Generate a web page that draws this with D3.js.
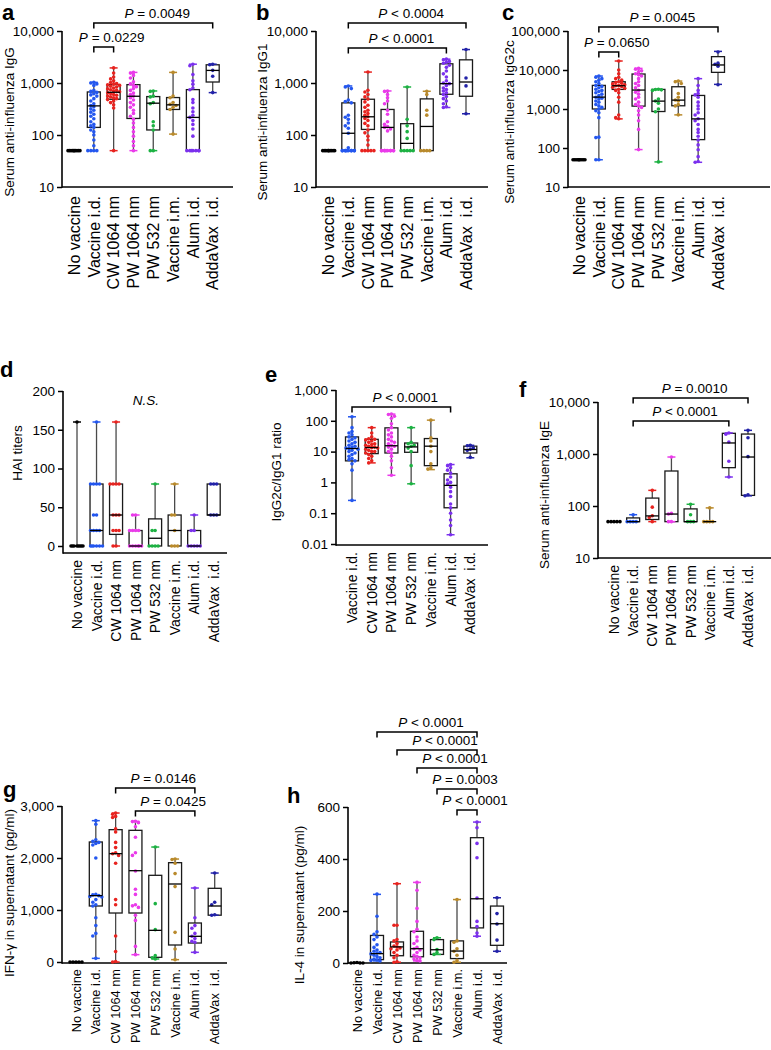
<!DOCTYPE html>
<html><head><meta charset="utf-8">
<script src="https://cdn.jsdelivr.net/npm/d3@7"></script>
<style>
body{margin:0;background:#fff;}
svg{display:block;font-family:"Liberation Sans",Arial,Helvetica,sans-serif;}
</style></head><body>
<svg id="fig" width="771" height="1050"></svg>
<script>
// ---------------- DATA ----------------
const groups = ["No vaccine","Vaccine i.d.","CW 1064 nm","PW 1064 nm","PW 532 nm","Vaccine i.m.","Alum i.d.","AddaVax  i.d."];
const groupColors = ["#000000","#2457ef","#e8231f","#ea3bea","#1db243","#b98a2c","#7b30ee","#2222a8"];

// box stats: [min, q1, median, q3, max]
const aStats = [[50,50,50,50,50],[50,140,363,673,1030],[50,487,663,930,1950],[50,208,556,930,1600],[50,125,409,548,703],[104,310,380,525,1600],[50,50,218,746,2300],[653,1045,1746,2240,2300]];
const aPoints = [
  [50,50,50,50,50,50,50,50,50,50],
  [1030,1000,960,900,720,690,660,620,590,560,500,450,400,370,350,320,300,275,250,230,205,180,160,150,140,125,115,100,80,62,50,50,50,50],
  [1950,1550,1300,1200,1100,1020,980,950,920,900,870,840,800,770,740,720,700,680,650,630,600,580,560,540,520,500,480,450,420,380,330,50],
  [1600,1550,1400,1250,1050,960,900,850,780,720,640,600,560,520,470,420,380,340,300,260,230,200,170,140,115,95,75,62,50],
  [703,690,560,540,420,400,180,150,125,50,50],
  [1600,560,520,420,390,370,340,310,104],
  [2300,2150,1450,1100,950,800,740,480,420,330,280,240,218,190,160,130,95,50,50,50,50,50,50,50],
  [2300,2250,1750,1350,653]
];
const aBrackets = [["Vaccine i.d.","AddaVax  i.d.","= 0.0049"],["Vaccine i.d.","CW 1064 nm","= 0.0229"]];

const bStats = [[50,50,50,50,50],[50,50,108,415,877],[50,128,224,487,1623],[50,50,140,310,703],[50,50,69,165,838],[50,50,146,495,693],[338,607,971,2340,2875],[256,556,1045,2790,4400]];
const bPoints = [
  [50,50,50,50,50,50,50,50,50,50],
  [877,840,780,470,440,415,240,220,200,170,150,135,108,57,50,50,50,50,50,50,50,50,50,50],
  [1623,724,673,600,540,490,433,374,340,300,280,259,240,224,208,190,167,150,125,110,95,80,64,50,50,50,50,50],
  [703,690,600,520,450,400,300,250,180,160,145,140,130,120,50,50,50,50,50,50,50,50,50,50],
  [838,200,150,116,86,50,50,50,50,50],
  [693,600,300,241,50,50,50,50],
  [2875,2800,2600,2500,2400,2200,2000,1700,1500,1300,1100,1000,971,900,800,750,700,650,600,550,500,450,400,350,338],
  [4400,1250,880,256]
];
const bBrackets = [["Vaccine i.d.","AddaVax  i.d.","< 0.0004"],["Vaccine i.d.","Alum i.d.","< 0.0001"]];

const cStats = [[50,50,50,50,50],[50,1000,2017,4030,7000],[558,3180,3950,5000,17000],[91,1184,3060,7890,11000],[44,862,1592,3180,3180],[707,1210,1690,3720,5200],[43,164,558,2226,6000],[4280,8700,13460,22000,30000]];
const cPoints = [
  [50,50,50,50,50,50,50,50,50,50],
  [7000,6500,6000,5500,5000,4500,4000,3800,3500,3200,3000,2800,2600,2400,2200,2000,1900,1800,1600,1500,1300,1200,1100,1000,900,800,600,190,185,50,50],
  [17000,10000,8000,6500,6000,5500,5000,4800,4600,4400,4200,4000,3950,3800,3600,3400,3200,3000,2600,2000,1500,700,600,560],
  [11000,10500,9500,9000,8000,7500,7000,6000,5000,4500,4000,3500,3000,2700,2400,2000,1800,1500,1300,1200,1100,900,700,500,300,91],
  [3200,3150,3100,3000,1800,1600,1400,1000,850,44],
  [5200,5000,4500,2500,2000,1700,1600,1300,1200,707],
  [6000,4000,3000,2500,2300,2000,1500,1200,1000,800,700,560,500,400,300,250,200,160,120,90,60,45,43],
  [29000,15000,14000,12500,4200]
];
const cBrackets = [["Vaccine i.d.","AddaVax  i.d.","= 0.0045"],["Vaccine i.d.","CW 1064 nm","= 0.0650"]];

const dStats = [[0,0,0,0,160],[0,0,20,80,160],[0,15,40,80,160],[0,0,0,20,40],[0,0,10,35,80],[0,0,20,40,80],[0,0,0,20,40],[40,40,40,80,80]];
const dPoints = [
  [160,0,0,0,0,0,0,0,0],
  [160,80,80,80,80,40,40,20,20,20,20,0,0,0,0,0,0],
  [160,80,80,80,80,40,40,40,20,20,20,0,0],
  [40,40,20,20,20,20,0,0,0,0,0,0],
  [80,20,20,0,0,0,0],
  [80,40,40,20,0,0,0],
  [40,20,20,0,0,0,0,0],
  [80,80,80,40,40,40]
];

const eGroups = groups.slice(1);
const eStats = [[0.26,5,12.6,30,135],[4.3,8.6,13.5,25,60],[1.7,9,15.5,59,165],[0.9,9.5,14.2,19,60],[2.6,3.5,15,26.5,105],[0.02,0.15,0.8,1.9,3.8],[6.3,9,11.7,15,16]];
const ePoints = [
  [135,60,45,40,35,30,28,25,22,20,18,16,15,14,13,12.6,12,11,10,9,8,7,6,5.5,5,4,2.5,0.26],
  [60,40,30,26,25,24,22,20,18,17,16,15,14,13.5,13,12,11,10,10,9,8,7,6,5,4.3],
  [165,160,140,120,80,60,50,40,35,30,25,22,20,18,16,15,14,12,10,9,7,5,3,1.7],
  [60,20,18,16,15,13,10,3.5,0.9],
  [105,28,22,15,10,4,3,2.7],
  [3.8,3.5,3,2.5,2,1.5,1.2,1,0.9,0.7,0.5,0.35,0.2,0.15,0.1,0.06,0.04,0.02],
  [16,15.5,13,12,11,6.5]
];
const eBrackets = [["Vaccine i.d.","Alum i.d.","< 0.0001"]];

const fStats = [[50,50,50,50,50],[50,50,50,59,68],[50,55,64.5,142,200],[50,50,70,471,875],[50,50,50,88,108],[50,50,50,50,92],[361,546,1630,2500,2540],[157,160,875,2420,2850]];
const fPoints = [
  [50,50,50,50,50],[68,50,50,50,50],[200,95,65,60,50],[875,72,70,50,50],
  [108,68,50,50,50],[92,50,50,50,50],[2540,2400,1700,723,361],[2850,2060,890,165,157]
];
const fBrackets = [["Vaccine i.d.","AddaVax  i.d.","= 0.0010"],["Vaccine i.d.","Alum i.d.","< 0.0001"]];

const gStats = [[0,0,0,0,0],[70,1077,1276,2308,2718],[0,942,2083,2545,2865],[141,942,1756,2532,2705],[58,90,609,1667,2211],[45,327,1500,1910,1980],[186,365,494,750,1423],[900,900,1077,1417,1711]];
const gPoints = [
  [0,0,0,0,0],
  [2718,2650,2350,2320,2300,2280,2250,2000,1300,1290,1276,1260,1250,1200,1150,1100,1077,850,700,550,500,70],
  [2865,2840,2800,2780,2560,2500,2300,2200,2100,2083,2050,1900,1200,1100,500,200,10,0],
  [2705,2700,2680,2600,2400,2100,2050,1750,1400,1300,1100,1080,1050,900,800,300,141],
  [2211,1122,622,122,83,58],
  [1980,1970,1900,1700,1450,570,250,45],
  [1423,850,700,650,550,494,450,400,380,186],
  [1711,1150,1100,910,900]
];
const gBrackets = [["CW 1064 nm","Alum i.d.","= 0.0146"],["PW 1064 nm","Alum i.d.","= 0.0425"]];

const hStats = [[0,0,0,0,2],[8,13,36,106,264],[3,28,62,81,305],[8,24,55,122,310],[33,33,51,90,97],[3,17,46,85,244],[103,135,247,482,542],[45,68,151,219,251]];
const hPoints = [
  [2,1,0,0,0],
  [265,180,120,110,100,90,70,60,50,45,40,38,35,30,25,20,15,12,10,8],
  [305,145,145,90,85,75,65,62,58,55,50,40,30,20,5,3],
  [310,280,210,160,130,120,100,85,75,60,55,50,40,30,25,20,15,10,8],
  [97,90,52,40,33],
  [244,85,80,55,45,30,10,3],
  [542,520,460,405,250,160,140,115,103],
  [251,190,150,88,45]
];
const hBrackets = [["Vaccine i.d.","Alum i.d.","< 0.0001"],["CW 1064 nm","Alum i.d.","< 0.0001"],["PW 1064 nm","Alum i.d.","< 0.0001"],["PW 532 nm","Alum i.d.","= 0.0003"],["Vaccine i.m.","Alum i.d.","< 0.0001"]];

// ticks
const ticksLog4 = [10,100,1000,10000];
const ticksLog5 = [10,100,1000,10000,100000];
const ticksRatio = [0.01,0.1,1,10,100,1000];
const ticksHAI = [0,50,100,150,200];
const ticksIFN = [0,1000,2000,3000];
const ticksIL4 = [0,200,400,600];

const titles = {
  a:"Serum anti-influenza IgG", b:"Serum anti-influenza IgG1", c:"Serum anti-influenza IgG2c",
  d:"HAI titers", e:"IgG2c/IgG1 ratio", f:"Serum anti-influenza IgE",
  g:"IFN-\u03b3 in supernatant (pg/ml)", h:"IL-4 in supernatant (pg/ml)"
};

// ---------------- LAYOUT ----------------
const panels = [
  {k:"a", stats:aStats, pts:aPoints, grp:groups, cols:groupColors, log:true, dom:[10,10000], ticks:ticksLog4, br:aBrackets,
   L:{lx:2, ly:20, ax:62, ay:187, xe:233, x0:74, x1:212.7, yt:31, yb:187, tx:14, ty:122, by:[23,47], cs:16, cg:9}},
  {k:"b", stats:bStats, pts:bPoints, grp:groups, cols:groupColors, log:true, dom:[10,10000], ticks:ticksLog4, br:bBrackets,
   L:{lx:256, ly:20, ax:316, ay:187, xe:488, x0:328.7, x1:466, yt:31, yb:187, tx:267, ty:122, by:[23,48], cs:16, cg:9}},
  {k:"c", stats:cStats, pts:cPoints, grp:groups, cols:groupColors, log:true, dom:[10,100000], ticks:ticksLog5, br:cBrackets,
   L:{lx:502, ly:20, ax:568, ay:187, xe:770, x0:579, x1:718, yt:31, yb:187, tx:514, ty:122, by:[27,52], cs:16, cg:9}},
  {k:"d", stats:dStats, pts:dPoints, grp:groups, cols:groupColors, log:false, dom:[0,200], ticks:ticksHAI, br:[],
   L:{lx:0, ly:377, ax:63, ay:553, xe:227, x0:77, x1:213.7, yt:391, yb:546, tx:22, ty:453, by:[], cs:14, cg:7}},
  {k:"e", stats:eStats, pts:ePoints, grp:eGroups, cols:groupColors.slice(1), log:true, dom:[0.01,1000], ticks:ticksRatio, br:eBrackets,
   L:{lx:265, ly:382, ax:336, ay:545, xe:488, x0:352, x1:470.3, yt:390, yb:544, tx:281, ty:472, by:[407], cs:14, cg:7}},
  {k:"f", stats:fStats, pts:fPoints, grp:groups, cols:groupColors, log:true, dom:[10,10000], ticks:ticksLog4, br:fBrackets,
   L:{lx:519, ly:397, ax:598, ay:558, xe:771, x0:614, x1:748, yt:402, yb:558, tx:549, ty:495, by:[398,421], cs:14, cg:7}},
  {k:"g", stats:gStats, pts:gPoints, grp:groups, cols:groupColors, log:false, dom:[0,3000], ticks:ticksIFN, br:gBrackets,
   L:{lx:3, ly:797, ax:62, ay:963, xe:227, x0:76, x1:214.7, yt:806, yb:962, tx:14, ty:893, by:[788,811], cs:12.8, cg:6}},
  {k:"h", stats:hStats, pts:hPoints, grp:groups, cols:groupColors, log:false, dom:[0,600], ticks:ticksIL4, br:hBrackets,
   L:{lx:287, ly:803, ax:348, ay:963, xe:507, x0:357, x1:497, yt:807, yb:963, tx:304, ty:905, by:[732,750,768,789,810], cs:12.8, cg:6}}
];

const svg = d3.select("#fig");
const BOXW = 13, CAPW = 8, R = 1.8;

function swarm(vals, y) {
  const pts = vals.map(v => ({v, py: y(v)})).sort((a,b) => a.py - b.py);
  const cand = [0,-3,3,-6,6,-1.5,1.5,-4.5,4.5];
  const placed = [];
  pts.forEach((p,k) => {
    let dx = null;
    for (const c of cand) {
      if (placed.every(q => (q.dx-c)**2 + (q.py-p.py)**2 >= 9)) { dx = c; break; }
    }
    if (dx === null) dx = cand[k % cand.length];
    p.dx = dx; placed.push(p);
  });
  return pts;
}

function pText(sel, label) {
  sel.append("tspan").attr("font-style","italic").text("P");
  sel.append("tspan").text(" " + label);
}

panels.forEach(p => {
  const L = p.L;
  const g = svg.append("g");
  const y = (p.log ? d3.scaleLog() : d3.scaleLinear()).domain(p.dom).range([L.yb, L.yt]);
  const x = d3.scalePoint().domain(p.grp).range([L.x0, L.x1]);

  // panel letter
  g.append("text").attr("x", L.lx).attr("y", L.ly).attr("font-size", 22).attr("font-weight","bold").text(p.k);

  // y axis ticks
  const yAxis = d3.axisLeft(y).tickValues(p.ticks).tickFormat(d3.format(",")).tickSize(5).tickPadding(3);
  const ga = g.append("g").attr("transform", `translate(${L.ax},0)`).call(yAxis);
  ga.select(".domain").remove();
  ga.selectAll(".tick line").attr("stroke","#000").attr("stroke-width",1.5);
  ga.selectAll(".tick text").attr("font-size",13.5).attr("fill","#000").attr("font-family","Liberation Sans, Arial, sans-serif");

  // axis lines
  g.append("line").attr("x1",L.ax).attr("x2",L.ax).attr("y1",L.yt).attr("y2",L.ay+0.75).attr("stroke","#000").attr("stroke-width",1.6);
  g.append("line").attr("x1",L.ax).attr("x2",L.xe).attr("y1",L.ay).attr("y2",L.ay).attr("stroke","#000").attr("stroke-width",1.6);

  // y title
  g.append("text").attr("transform",`translate(${L.tx},${L.ty}) rotate(-90)`).attr("text-anchor","middle")
    .attr("font-size",13.5).text(titles[p.k]);

  // category labels
  p.grp.forEach(name => {
    g.append("text").attr("transform",`translate(${x(name)},${L.ay+L.cg}) rotate(-90)`)
      .attr("text-anchor","end").attr("dy","0.36em").attr("font-size",L.cs)
      .style("white-space","pre").text(name);
  });

  // boxes
  p.grp.forEach((name,i) => {
    const cx = x(name), col = p.cols[i];
    const [mn,q1,md,q3,mx] = p.stats[i].map(v => y(v));
    const bg = g.append("g");
    bg.append("line").attr("x1",cx).attr("x2",cx).attr("y1",mx).attr("y2",q3).attr("stroke","#4a4a4a").attr("stroke-width",1.3);
    bg.append("line").attr("x1",cx).attr("x2",cx).attr("y1",q1).attr("y2",mn).attr("stroke","#4a4a4a").attr("stroke-width",1.3);
    bg.append("rect").attr("x",cx-BOXW/2).attr("y",q3).attr("width",BOXW).attr("height",Math.max(0,q1-q3))
      .attr("fill","none").attr("stroke","#1a1a1a").attr("stroke-width",1.3);
    [mn,mx].forEach(yy => bg.append("line").attr("x1",cx-CAPW/2).attr("x2",cx+CAPW/2).attr("y1",yy).attr("y2",yy)
      .attr("stroke",col).attr("stroke-width",1.5));
    swarm(p.pts[i], y).forEach(pt => {
      bg.append("circle").attr("cx",cx+pt.dx).attr("cy",pt.py).attr("r",R).attr("fill",col);
    });
    bg.append("line").attr("x1",cx-BOXW/2).attr("x2",cx+BOXW/2).attr("y1",md).attr("y2",md).attr("stroke","#000").attr("stroke-width",1.3);
  });

  // brackets
  p.br.forEach((b,j) => {
    const xa = x(b[0]), xb = x(b[1]), by = L.by[j];
    const w = xb - xa;
    g.append("path").attr("d",`M${xa},${by+5.5}V${by}H${xb}V${by+5.5}`).attr("fill","none").attr("stroke","#000").attr("stroke-width",1.5);
    const t = g.append("text").attr("x",(xa+xb)/2 + (w < 90 ? 8 : 4)).attr("y",by-5).attr("text-anchor","middle").attr("font-size",13.5);
    pText(t, b[2]);
  });

  if (p.k === "d") {
    g.append("text").attr("x",146).attr("y",405).attr("text-anchor","middle").attr("font-size",13.5)
      .attr("font-style","italic").text("N.S.");
  }
});
</script></body></html>
